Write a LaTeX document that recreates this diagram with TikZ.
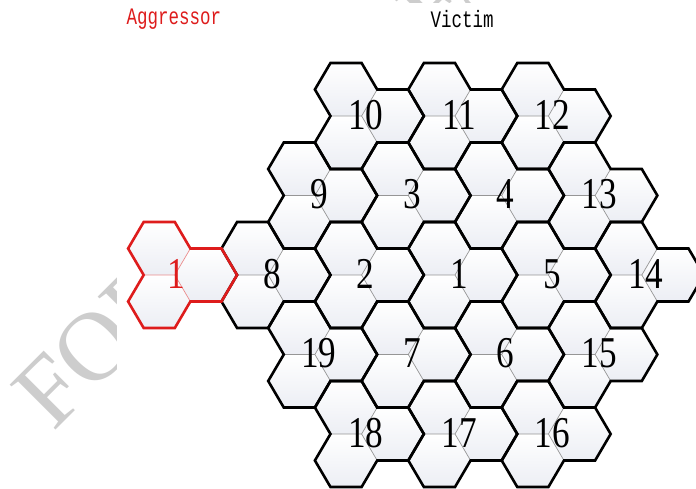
\documentclass[tikz,border=0pt]{standalone}
\usepackage{fontspec}
\setmainfont{Liberation Serif}
\newfontfamily\monofont{Liberation Mono}
\definecolor{hexbot}{RGB}{236,238,244}
\definecolor{innergray}{RGB}{150,150,150}
\definecolor{aggred}{RGB}{222,28,28}
\definecolor{aggpink}{RGB}{235,140,140}
\definecolor{wmgray}{RGB}{205,205,205}
\newcommand\hs{31.13}
\newcommand\hh{53}
\newcommand\hexat[2]{(#1-\hs,#2) -- (#1-\hs/2,#2-\hh/2) -- (#1+\hs/2,#2-\hh/2) -- (#1+\hs,#2) -- (#1+\hs/2,#2+\hh/2) -- (#1-\hs/2,#2+\hh/2) -- cycle}
\newcommand\celloutline{(-\hs,-\hh) -- (0,-\hh) -- (\hs/2,-\hh/2) -- (3*\hs/2,-\hh/2) -- (2*\hs,0) -- (3*\hs/2,\hh/2) -- (\hs/2,\hh/2) -- (0,\hh) -- (-\hs,\hh) -- (-3*\hs/2,\hh/2) -- (-\hs,0) -- (-3*\hs/2,-\hh/2) -- cycle}
\newcommand\cellinner{(0,0) -- (-\hs,0) (0,0) -- (\hs/2,-\hh/2) (0,0) -- (\hs/2,\hh/2)}
\newcommand\victimcells{1/455/275, 2/361.6/275, 8/268.2/275, 5/548.4/275, 14/641.8/275,
  9/314.9/195.5, 3/408.3/195.5, 4/501.7/195.5, 13/595.1/195.5,
  19/314.9/354.5, 7/408.3/354.5, 6/501.7/354.5, 15/595.1/354.5,
  10/361.6/116, 11/455/116, 12/548.4/116,
  18/361.6/434, 17/455/434, 16/548.4/434}
\begin{document}
\begin{tikzpicture}[x=1pt,y=-1pt,
  cellfill/.style={top color=white,bottom color=hexbot},
  innerline/.style={draw=innergray,line width=0.7pt},
  agginner/.style={draw=aggpink,line width=0.7pt},
  outline/.style={draw=black,line width=2.6pt,line join=miter},
  aggoutline/.style={draw=aggred,line width=2.6pt,line join=miter},
  cellnum/.style={font=\fontsize{44}{44}\selectfont,xscale=0.8,inner sep=0pt},
  toplbl/.style={font=\monofont\fontsize{17.5}{17.5}\selectfont,yscale=1.35,inner sep=0pt},
  watermark/.style={font=\fontsize{98}{98}\selectfont,text=wmgray,rotate=45,inner sep=0pt,anchor=base west}]
\useasboundingbox (0,0) rectangle (696,489);
\clip (0,0) rectangle (696,489);
% watermark behind the figure
\node[watermark] (wm) at (53,433) {FOR PEER REVIEW};
\fill[white] (117,3) rectangle (696,489);
% fills
\foreach \n/\px/\py in \victimcells {
  \begin{scope}[shift={(\px,\py)}]
    \shade[cellfill] \hexat{-\hs/2}{-\hh/2};
    \shade[cellfill] \hexat{-\hs/2}{\hh/2};
    \shade[cellfill] \hexat{\hs}{0};
  \end{scope}
}
\begin{scope}[shift={(174.8,275)}]
  \shade[cellfill] \hexat{-\hs/2}{-\hh/2};
  \shade[cellfill] \hexat{-\hs/2}{\hh/2};
  \shade[cellfill] \hexat{\hs}{0};
\end{scope}
% inner edges
\foreach \n/\px/\py in \victimcells {
  \begin{scope}[shift={(\px,\py)}]
    \path[innerline] \cellinner;
  \end{scope}
}
\begin{scope}[shift={(174.8,275)}]
  \path[agginner] \cellinner;
\end{scope}
% outlines
\foreach \n/\px/\py in \victimcells {
  \begin{scope}[shift={(\px,\py)}]
    \path[outline] \celloutline;
  \end{scope}
}
\begin{scope}[shift={(174.8,275)}]
  \path[aggoutline] \celloutline;
\end{scope}
% labels
\foreach \n/\px/\py in \victimcells {
  \node[cellnum] (cell\n) at (\px+4,\py-1) {\n};
}
\node[cellnum,text=aggred] (aggcell) at (176,274) {1};
\node[toplbl,text=aggred] (agglbl) at (174,19) {Aggressor};
\node[toplbl] (viclbl) at (462,19) {Victim};
\end{tikzpicture}
\end{document}
